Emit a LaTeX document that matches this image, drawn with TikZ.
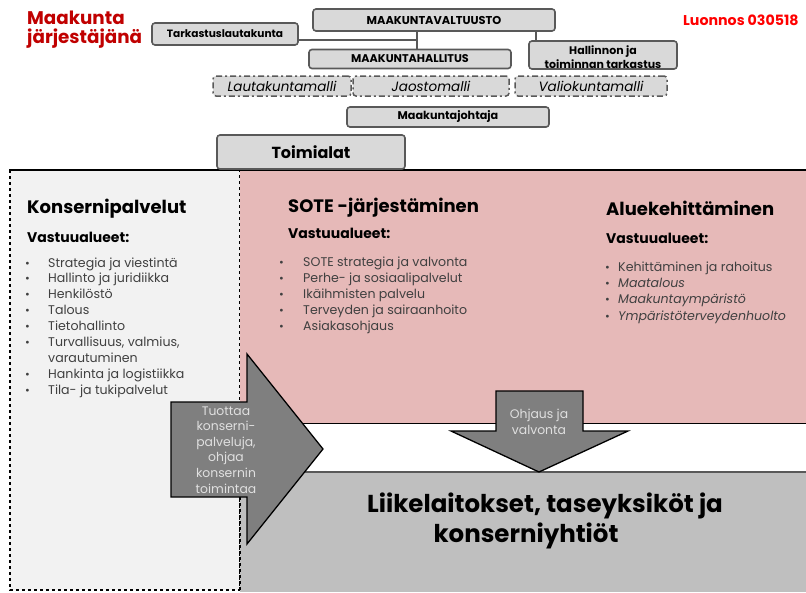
\documentclass[tikz,border=0pt]{standalone}
\usepackage{fontspec}
\setmainfont{Poppins}
\definecolor{titlered}{HTML}{C00000}
\definecolor{draftred}{HTML}{FF0000}
\definecolor{boxfill}{HTML}{D9D9D9}
\definecolor{boxline}{HTML}{595959}
\definecolor{leftfill}{HTML}{F2F2F2}
\definecolor{pinkfill}{HTML}{E6B9B8}
\definecolor{grayfill}{HTML}{BFBFBF}
\definecolor{arrowfill}{HTML}{7F7F7F}
\definecolor{itemtext}{HTML}{404040}
\definecolor{arrowtext}{HTML}{E0E0E0}
\begin{document}
\begin{tikzpicture}[x=1pt,y=-1pt,
  orgbox/.style={draw=boxline, line width=1.6pt, fill=boxfill, rounded corners=3pt, inner sep=0pt,
    font=\bfseries\fontsize{11}{13}\selectfont},
  modelbox/.style={draw=boxline, line width=1.5pt, fill=boxfill, rounded corners=3pt, inner sep=0pt,
    dash pattern=on 6pt off 3pt on 2pt off 3pt, font=\itshape\fontsize{13.5}{15}\selectfont},
  conn/.style={draw=boxline, line width=1.6pt},
  heading/.style={anchor=base west, inner sep=0pt, font=\bfseries\fontsize{18}{21}\selectfont},
  subhead/.style={anchor=base west, inner sep=0pt, font=\bfseries\fontsize{14}{16}\selectfont},
  item/.style={anchor=base west, inner sep=0pt, text=itemtext, font=\fontsize{12.6}{14}\selectfont},
  itemit/.style={item, font=\itshape\fontsize{12.6}{14}\selectfont},
  bul/.style={anchor=base west, inner sep=0pt, text=itemtext, font=\fontsize{11.5}{14}\selectfont},
  arrtext/.style={anchor=base, inner sep=0pt, text=arrowtext, font=\fontsize{12.4}{14}\selectfont},
  bigtext/.style={anchor=base, inner sep=0pt, font=\bfseries\fontsize{24.5}{28}\selectfont},
  arrowshape/.style={fill=arrowfill, draw=black, line width=1.3pt, line join=miter}
]
\useasboundingbox (0,0) rectangle (806,592);

% ---------- main areas ----------
\draw[fill=leftfill, dashed, line width=1.2pt] (10,170) rectangle (240,590);
\fill[pinkfill] (240,170) rectangle (806,423);
\draw[line width=1pt] (240,423) -- (806,423);
\fill[grayfill] (240,472) rectangle (806,592);
\draw[boxline, line width=1.2pt] (240,472) -- (806,472);
\draw[dashed, line width=1.6pt] (240,497) -- (240,592);
\draw[line width=2.2pt] (9,170) -- (806,170);

% ---------- title texts ----------
\node[anchor=base west, inner sep=0pt, text=titlered, font=\bfseries\fontsize{18.3}{21}\selectfont] (t1) at (27,24) {Maakunta};
\node[anchor=base west, inner sep=0pt, text=titlered, font=\bfseries\fontsize{18.3}{21}\selectfont] (t2) at (27,43) {järjestäjänä};
\node[anchor=base west, inner sep=0pt, text=draftred, font=\bfseries\fontsize{14.2}{16}\selectfont] (draft) at (683,25) {Luonnos 030518};

% ---------- organisation boxes ----------
\node[orgbox, minimum width=242pt, minimum height=22pt, font=\bfseries\fontsize{11.4}{13}\selectfont] (valt) at (434,20) {MAAKUNTAVALTUUSTO};
\node[orgbox, minimum width=146pt, minimum height=22pt, font=\bfseries\fontsize{10.6}{13}\selectfont] (tark) at (225,34) {Tarkastuslautakunta};
\node[orgbox, minimum width=202pt, minimum height=19pt, font=\bfseries\fontsize{11.2}{13}\selectfont] (hall) at (410,59) {MAAKUNTAHALLITUS};
\node[orgbox, minimum width=148pt, minimum height=28pt] (halt) at (603,55) {};
\node[anchor=base, inner sep=0pt, font=\bfseries\fontsize{11}{13}\selectfont] (halt1) at (603,54) {Hallinnon ja};
\node[anchor=base, inner sep=0pt, font=\bfseries\fontsize{11}{13}\selectfont] (halt2) at (603,68) {toiminnan tarkastus};
\node[modelbox, minimum width=138pt, minimum height=20pt] (lauta) at (282,86) {Lautakuntamalli};
\node[modelbox, minimum width=156pt, minimum height=20pt] (jaos) at (431,86) {Jaostomalli};
\node[modelbox, minimum width=152pt, minimum height=20pt] (valio) at (591,86) {Valiokuntamalli};
\node[orgbox, minimum width=202pt, minimum height=20pt, font=\bfseries\fontsize{11.2}{13}\selectfont] (johtaja) at (448,117) {Maakuntajohtaja};
\node[orgbox, minimum width=188pt, minimum height=34pt, font=\bfseries\fontsize{16}{19}\selectfont] (toim) at (311,152) {Toimialat};

% connectors
\coordinate (j1) at (417,40);
\coordinate (j2) at (536,40);
\draw[conn] (valt.south -| j1) -- (hall.north -| j1);
\draw[conn] (tark.east |- j1) -- (j1);
\draw[conn] (valt.south -| j2) -- (halt.north -| j2);

% ---------- Konsernipalvelut ----------
\node[heading] (kh) at (27,213) {Konsernipalvelut};
\node[subhead] (kv) at (27,242) {Vastuualueet:};
\foreach \t [count=\i] in {Strategia ja viestintä, Hallinto ja juridiikka, Henkilöstö, Talous, Tietohallinto, {Turvallisuus, valmius,}, varautuminen, Hankinta ja logistiikka, Tila- ja tukipalvelut} {
  \node[item] (ki\i) at (48,{267+15.9*(\i-1)}) {\t};
}
\foreach \i in {1,2,3,4,5,6,8,9} {
  \node[bul] (kb\i) at (25,{267+15.9*(\i-1)}) {•};
}

% ---------- SOTE ----------
\node[heading] (sh) at (288,212) {SOTE -järjestäminen};
\node[subhead] (sv) at (288,238) {Vastuualueet:};
\foreach \t [count=\i] in {SOTE strategia ja valvonta, Perhe- ja sosiaalipalvelut, Ikäihmisten palvelu, Terveyden ja sairaanhoito, Asiakasohjaus} {
  \node[item] (si\i) at (303,{266+16*(\i-1)}) {\t};
  \node[bul] (sb\i) at (279,{266+16*(\i-1)}) {•};
}

% ---------- Aluekehittäminen ----------
\node[heading] (ah) at (606,215) {Aluekehittäminen};
\node[subhead] (av) at (606,243) {Vastuualueet:};
\node[item] (ai1) at (618,271) {Kehittäminen ja rahoitus};
\node[itemit] (ai2) at (618,287.3) {Maatalous};
\node[itemit] (ai3) at (618,303.6) {Maakuntaympäristö};
\node[itemit] (ai4) at (618,320) {Ympäristöterveydenhuolto};
\foreach \i/\y in {1/271,2/287.3,3/303.6,4/320} {
  \node[bul] (ab\i) at (605,\y) {•};
}

% ---------- arrows ----------
\draw[arrowshape] (171,402) -- (247,402) -- (247,354) -- (323,449) -- (247,544) -- (247,497) -- (171,497) -- cycle;
\foreach \t [count=\i] in {Tuottaa, konserni-, {palveluja,}, ohjaa, konsernin, toimintaa} {
  \node[arrtext] (ra\i) at (226,{415+15.6*(\i-1)}) {\t};
}
\draw[arrowshape] (496,391) -- (583,391) -- (583,431) -- (628,431) -- (539,472) -- (451,431) -- (496,431) -- cycle;
\node[arrtext] (da1) at (539,418) {Ohjaus ja};
\node[arrtext] (da2) at (539,434) {valvonta};

% ---------- bottom text ----------
\node[bigtext] (b1) at (545,512) {Liikelaitokset, taseyksiköt ja};
\node[bigtext] (b2) at (526,542) {konserniyhtiöt};
\end{tikzpicture}
\end{document}
